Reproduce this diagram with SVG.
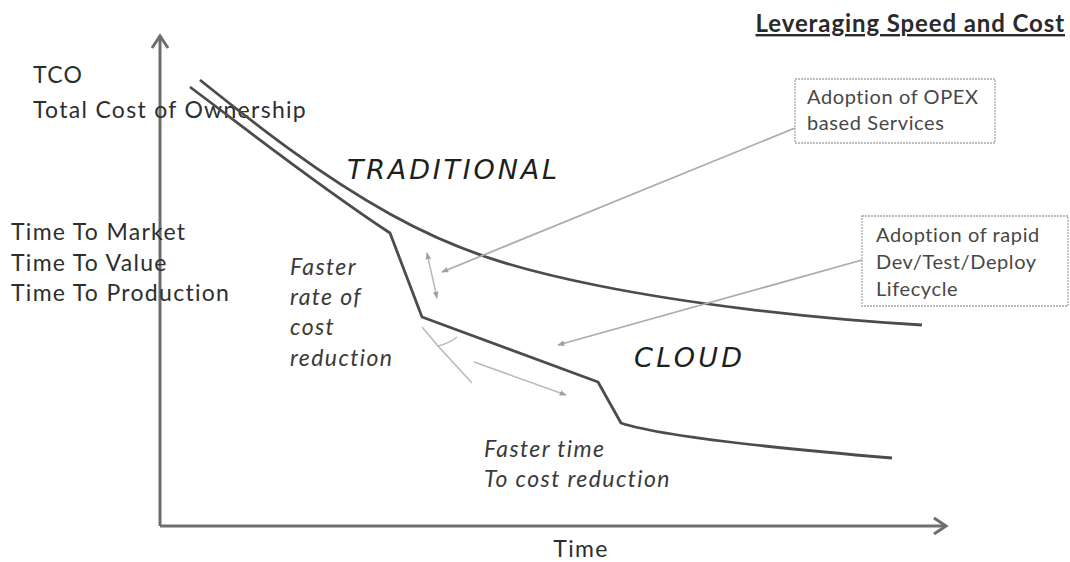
<svg xmlns="http://www.w3.org/2000/svg" width="1070" height="562" viewBox="0 0 1070 562">
<style>
.lbl{font-family:Lato,"Liberation Sans",sans-serif;font-size:23px;letter-spacing:1.3px;fill:#2e2e2e}
.ital{font-family:Lato,"Liberation Sans",sans-serif;font-style:italic;font-size:23px;letter-spacing:1.4px;fill:#3a3a3a}
.big{font-family:"DejaVu Sans",Verdana,sans-serif;font-style:oblique;font-size:27px;fill:#1e1e1e}
.box{fill:none;stroke:#a8a8a8;stroke-width:1.3;stroke-dasharray:2 1}
.boxt{font-family:Lato,"Liberation Sans",sans-serif;font-size:20px;letter-spacing:0.6px;fill:#474747}
.axis{fill:none;stroke:#6e6e6e;stroke-width:3}
.curve{fill:none;stroke:#4c4c4c;stroke-width:2.8;stroke-linejoin:round}
.call{fill:none;stroke:#acacac;stroke-width:1.8}
.thin{fill:none;stroke:#b8b8b8;stroke-width:1.5}
</style>
<defs>
<marker id="ah" viewBox="0 0 10 10" refX="9" refY="5" markerWidth="7" markerHeight="7" orient="auto-start-reverse" markerUnits="userSpaceOnUse">
<path d="M0,1 L10,5 L0,9 z" fill="#a0a0a0"/>
</marker>
</defs>
<rect width="1070" height="562" fill="#ffffff"/>

<g id="title">
<text x="1065" y="32" text-anchor="end" font-family="Lato,'Liberation Sans',sans-serif" font-weight="bold" font-size="24" letter-spacing="0.9" fill="#2a2a2a" text-decoration="underline">Leveraging Speed and Cost</text>
</g>

<g id="axes">
<line class="axis" x1="160" y1="36" x2="160" y2="526"/>
<polyline class="axis" points="152,48 160,36 168,48" stroke-width="2.5"/>
<line class="axis" x1="160" y1="526" x2="945" y2="526"/>
<polyline class="axis" points="934,518 946,526 934,534" stroke-width="2.5"/>
</g>

<g id="y-labels">
<text class="lbl" x="33" y="83">TCO</text>
<text class="lbl" x="33" y="118">Total Cost of Ownership</text>
<text class="lbl" x="11" y="240">Time To Market</text>
<text class="lbl" x="11" y="271">Time To Value</text>
<text class="lbl" x="11" y="301">Time To Production</text>
</g>

<g id="x-label">
<text class="lbl" x="581" y="557" text-anchor="middle">Time</text>
</g>

<g id="traditional">
<path class="curve" d="M200,80 C260,128 320,175 390,214 S520,270 600,286 S800,318 922,325"/>
<text class="big" x="347" y="179" textLength="210">TRADITIONAL</text>
</g>

<g id="cloud">
<path class="curve" d="M190,87 C245,128 310,180 390,233 L422,317 L598,382 L621,423 C660,436 760,447 892,458"/>
<text class="big" x="634" y="367" textLength="108">CLOUD</text>
</g>

<g id="rate-label">
<text class="ital" x="290" y="275">Faster</text>
<text class="ital" x="290" y="305">rate of</text>
<text class="ital" x="290" y="335">cost</text>
<text class="ital" x="290" y="366">reduction</text>
</g>

<g id="time-label">
<text class="ital" x="484" y="457">Faster time</text>
<text class="ital" x="484" y="487">To cost reduction</text>
</g>

<g id="opex-box">
<rect class="box" x="795" y="79" width="200" height="64"/>
<text class="boxt" x="807" y="104">Adoption of OPEX</text>
<text class="boxt" x="807" y="130">based Services</text>
</g>

<g id="rapid-box">
<rect class="box" x="862" y="216" width="206" height="90"/>
<text class="boxt" x="876" y="242">Adoption of rapid</text>
<text class="boxt" x="876" y="269">Dev/Test/Deploy</text>
<text class="boxt" x="876" y="296">Lifecycle</text>
</g>

<g id="connectors">
<line class="call" x1="795" y1="128" x2="442" y2="272" marker-end="url(#ah)"/>
<line class="call" x1="862" y1="260" x2="558" y2="345" marker-end="url(#ah)"/>
<line class="thin" x1="427" y1="253" x2="437" y2="298" marker-start="url(#ah)" marker-end="url(#ah)"/>
<line class="thin" x1="474" y1="362" x2="566" y2="395" marker-end="url(#ah)"/>
<polyline class="thin" points="422,327 438,346 472,383"/>
<path class="thin" d="M438,346 Q448,344 457,337"/>
</g>
</svg>
